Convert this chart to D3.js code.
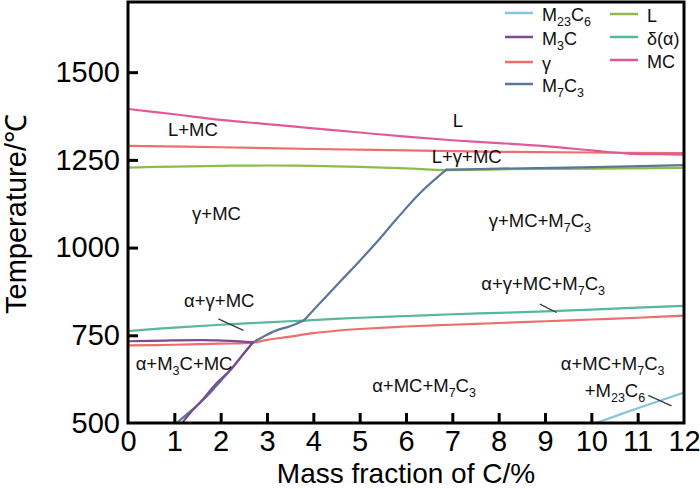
<!DOCTYPE html>
<html>
<head>
<meta charset="utf-8">
<script src="https://cdn.jsdelivr.net/npm/d3@7"></script>
<style>
  body { margin: 0; background: #fff; }
  svg { display: block; font-family: "Liberation Sans", Arial, sans-serif; }
</style>
</head>
<body>
<svg id="chart" width="700" height="489"></svg>
<script>
// ticks
var xTicks = [0,1,2,3,4,5,6,7,8,9,10,11,12]
var yTicks = [500,750,1000,1250,1500]

// phase boundaries, [C mass %, T in C]
var m23c6 = [[10.1,500],[11,542],[12,587]]
var lLine = [[0,1228],[1,1231],[2,1233],[3,1234],[4,1233],[5,1230],[6,1226],[6.9,1221],[8,1223],[10,1225],[12,1227]]
var delta = [[0,762],[1,772],[2,780],[3,787],[3.8,792],[5,800],[6,805],[7,810],[8,814],[9,818],[10,823],[11,829],[12,834]]
var gammaUp = [[0,1290],[2,1286],[4,1281],[6,1277],[8,1273],[10,1271],[12,1269]]
var gammaLow = [[0,721],[1,723],[2,726],[2.7,729],[3,737],[3.5,746],[4,756],[4.5,763],[5,768],[6,775],[7,780],[8,785],[9,790],[10,795],[11,800],[12,806]]
var mcLine = [[0,1395],[1,1380],[2,1364],[3,1352],[4,1340],[5,1328],[6,1316],[7,1306],[8,1298],[9,1289],[10,1277],[10.8,1268],[11.5,1266],[12,1265]]
// M7C3 boundary, in pieces between its corners
var m7c3Low = [[1.05,500],[1.3,528],[1.55,557],[1.8,590],[2.0,620],[2.27,660],[2.49,697],[2.7,730]]
var m7c3Mid = [[2.7,730],[2.92,746],[3.2,764],[3.5,776],[3.8,793]]
var m7c3Up = [[3.8,793],[4.15,843],[4.6,906],[5.0,962],[5.4,1020],[5.8,1082],[6.3,1155],[6.87,1222]]
var m7c3Top = [[6.87,1222],[8,1225],[9.5,1228],[12,1235]]
var m3cFlat = [[0,733],[0.8,735],[1.6,736],[2.2,734],[2.7,730]]
var m3cDrop = [[2.7,730],[2.45,690],[2.2,650],[1.9,612],[1.6,565],[1.35,530],[1.17,500]]

// region labels: text (_n = subscript), C %, T
var labels = [
  ["L+MC",1.40,1319],
  ["L",7.12,1344],
  ["L+γ+MC",7.31,1242],
  ["γ+MC",1.91,1079],
  ["γ+MC+M_7C_3",8.89,1059],
  ["α+γ+MC",1.97,831],
  ["α+M_3C+MC",1.21,651],
  ["α+γ+MC+M_7C_3",8.96,879],
  ["α+MC+M_7C_3",6.39,589],
  ["α+MC+M_7C_3",10.46,651],
  ["+M_2_3C_6",10.51,575]
]
var leaders = [
  [[1.95,797],[2.49,764]],
  [[8.89,839],[9.25,815]],
  [[11.23,579],[11.73,549]]
]

var legendNames = ["M_2_3C_6","M_3C","γ","M_7C_3","L","δ(α)","MC"]
var legendColors = ["#86c5dc","#7b4a8f","#ee6e6e","#5c7599","#8bbd4a","#55b79c","#e05a98"]

var svg = d3.select("#chart")
var x = d3.scaleLinear().domain([0,12]).range([128,684])
var y = d3.scaleLinear().domain([500,1700]).range([423,2])

var line = d3.line().x(function(d){return x(d[0])}).y(function(d){return y(d[1])})
var smooth = d3.line().x(function(d){return x(d[0])}).y(function(d){return y(d[1])}).curve(d3.curveCatmullRom.alpha(0.5))

var series = [
  [m23c6,"#86c5dc"],
  [lLine,"#8bbd4a"],
  [delta,"#55b79c"],
  [gammaUp,"#ee6e6e"],
  [gammaLow,"#ee6e6e"],
  [mcLine,"#e05a98"],
  [m7c3Low,"#5c7599"],
  [m7c3Mid,"#5c7599"],
  [m7c3Up,"#5c7599"],
  [m7c3Top,"#5c7599"],
  [m3cFlat,"#7b4a8f"],
  [m3cDrop,"#7b4a8f"]
]

var clip = svg.append("clipPath").attr("id","plotclip")
clip.append("rect").attr("x",128).attr("y",2).attr("width",556).attr("height",421)

var g = svg.append("g").attr("clip-path","url(#plotclip)")
series.forEach(function(s){
  g.append("path").attr("d",smooth(s[0])).attr("fill","none")
    .attr("stroke",s[1]).attr("stroke-width",2.2).attr("stroke-linejoin","round").attr("stroke-linecap","round")
})

leaders.forEach(function(l){
  svg.append("path").attr("d",line(l)).attr("stroke","#3a3a3a").attr("stroke-width",1.3).attr("fill","none")
})

// text with subscripts
function richText(sel, str, big, small){
  var parts = str.split(/(_\d)/)
  var sub = false
  parts.forEach(function(p){
    if(p==="") return
    if(p[0]==="_"){
      var t = sel.append("tspan").text(p[1]).attr("font-size",small)
      if(!sub){ t.attr("dy",5); sub=true }
    } else {
      var t2 = sel.append("tspan").text(p).attr("font-size",big)
      if(sub){ t2.attr("dy",-5); sub=false }
    }
  })
}

labels.forEach(function(d){
  var t = svg.append("text").attr("x",x(d[1])).attr("y",y(d[2])).attr("text-anchor","middle").attr("fill","#111")
  richText(t,d[0],"18.5px","12.5px")
})

// legend
var rowsY = [[13,37,62,84],[14,37,60]]
legendNames.forEach(function(n,i){
  var col = i<4 ? 0 : 1
  var row = i<4 ? i : i-4
  var lx = col===0 ? 505 : 610
  var ly = rowsY[col][row]
  svg.append("line").attr("x1",lx).attr("x2",lx+28).attr("y1",ly).attr("y2",ly)
    .attr("stroke",legendColors[i]).attr("stroke-width",2.5)
  var t = svg.append("text").attr("x",lx+37).attr("y",ly+8).attr("fill","#111")
  richText(t,n,"18px","12.5px")
})

// axes
var xAxis = svg.append("g").attr("transform","translate(0,423)")
  .call(d3.axisBottom(x).tickValues(xTicks).tickFormat(d3.format("d")).tickSize(-10).tickPadding(7))
var yAxis = svg.append("g").attr("transform","translate(128,0)")
  .call(d3.axisLeft(y).tickValues(yTicks).tickFormat(d3.format("d")).tickSize(-10).tickPadding(8))
;[xAxis,yAxis].forEach(function(a){
  a.select(".domain").remove()
  a.selectAll(".tick line").attr("stroke","#000").attr("stroke-width",3)
  a.selectAll(".tick text").attr("font-size","29px").attr("fill","#000").attr("font-family","Liberation Sans, Arial, sans-serif")
})
// drop tick lines that sit on the frame
yAxis.selectAll(".tick line").filter(function(d){return d===500}).remove()
xAxis.selectAll(".tick line").filter(function(d){return d===0||d===12}).remove()

svg.append("rect").attr("x",128).attr("y",2).attr("width",556).attr("height",421)
  .attr("fill","none").attr("stroke","#000").attr("stroke-width",3)

svg.append("text").attr("x",406).attr("y",483).attr("text-anchor","middle")
  .attr("font-size","28px").attr("fill","#000").text("Mass fraction of C/%")
svg.append("text").attr("transform","translate(26,214) rotate(-90)").attr("text-anchor","middle")
  .attr("font-size","29px").attr("fill","#000").text("Temperature/℃")
</script>
</body>
</html>
